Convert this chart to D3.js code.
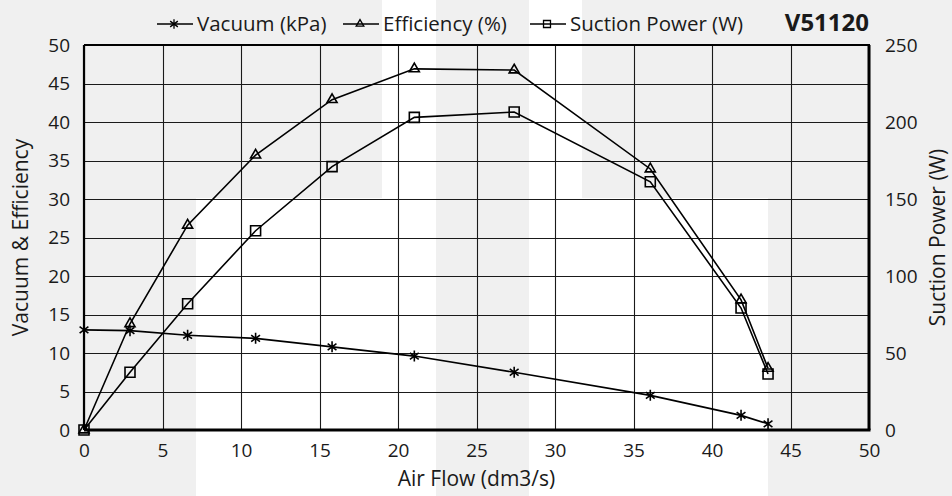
<!DOCTYPE html>
<html>
<head>
<meta charset="utf-8">
<script src="https://cdn.jsdelivr.net/npm/d3@7"></script>
<style>
  body { margin: 0; background: #f0f0f0; }
  svg { display: block; font-family: "Open Sans", sans-serif; }
</style>
</head>
<body>
<svg id="chart" width="952" height="496"></svg>
<script>
// air flow readings (dm3/s), shared by all three series
var airFlow = [0, 2.93, 6.6, 10.93, 15.8, 21.04, 27.4, 36.07, 41.85, 43.57];
var vacuum = [13.0, 12.9, 12.3, 11.9, 10.8, 9.6, 7.5, 4.5, 1.9, 0.8];
var efficiency = [0, 13.8, 26.6, 35.7, 42.9, 46.9, 46.75, 33.9, 16.9, 8.0];
var suctionPower = [0, 37.5, 82, 129.4, 171, 203, 206.5, 161.2, 79.2, 36.4];

var xTicks = [0, 5, 10, 15, 20, 25, 30, 35, 40, 45, 50];
var yLeftTicks = [0, 5, 10, 15, 20, 25, 30, 35, 40, 45, 50];
var yRightTicks = [0, 50, 100, 150, 200, 250];

var seriesNames = ["Vacuum (kPa)", "Efficiency (%)", "Suction Power (W)"];
var modelName = "V51120";

var svg = d3.select("#chart");
var plotL = 84, plotR = 869, plotT = 45, plotB = 430;
var fontFam = "'Open Sans', sans-serif";
var ink = "#1a1a1a";

// background patches (the source image had a checkered backdrop)
var patches = [
  [196, 198, 240, 298],
  [382, 0, 54, 198],
  [529, 198, 239, 298],
  [529, 0, 53, 198]
];
svg.selectAll("rect.patch")
  .data(patches)
  .enter()
  .append("rect")
  .attr("class", "patch")
  .attr("x", function (d) { return d[0]; })
  .attr("y", function (d) { return d[1]; })
  .attr("width", function (d) { return d[2]; })
  .attr("height", function (d) { return d[3]; })
  .attr("fill", "#ffffff");

var x = d3.scaleLinear().domain([0, 50]).range([plotL, plotR]);
var y = d3.scaleLinear().domain([0, 50]).range([plotB, plotT]);
var yR = d3.scaleLinear().domain([0, 250]).range([plotB, plotT]);

// grid
var grid = svg.append("g").attr("stroke", ink).attr("stroke-width", 1.1);
grid.selectAll("line.v")
  .data(xTicks)
  .enter()
  .append("line")
  .attr("x1", function (d) { return Math.round(x(d)) + 0.5; })
  .attr("x2", function (d) { return Math.round(x(d)) + 0.5; })
  .attr("y1", plotT)
  .attr("y2", plotB);
grid.selectAll("line.h")
  .data(yLeftTicks)
  .enter()
  .append("line")
  .attr("y1", function (d) { return Math.round(y(d)) + 0.5; })
  .attr("y2", function (d) { return Math.round(y(d)) + 0.5; })
  .attr("x1", plotL)
  .attr("x2", plotR);

// axes
var fontSize = 19;
function styleAxis(g) {
  g.select(".domain").remove();
  g.selectAll("text").attr("font-size", fontSize).attr("fill", ink)
    .attr("font-family", fontFam);
}
svg.append("g")
  .attr("transform", "translate(0," + plotB + ")")
  .call(d3.axisBottom(x).tickValues(xTicks).tickSize(0).tickPadding(14))
  .call(styleAxis);
svg.append("g")
  .attr("transform", "translate(" + plotL + ",0)")
  .call(d3.axisLeft(y).tickValues(yLeftTicks).tickSize(0).tickPadding(14))
  .call(styleAxis);
svg.append("g")
  .attr("transform", "translate(" + plotR + ",0)")
  .call(d3.axisRight(yR).tickValues(yRightTicks).tickSize(0).tickPadding(16))
  .call(styleAxis);

// plot frame
svg.append("line").attr("x1", plotL).attr("x2", plotL).attr("y1", plotT).attr("y2", plotB)
  .attr("stroke", "#000").attr("stroke-width", 2.2);
svg.append("line").attr("x1", plotL).attr("x2", plotR + 1).attr("y1", plotT).attr("y2", plotT)
  .attr("stroke", "#000").attr("stroke-width", 2.2);
svg.append("line").attr("x1", plotL).attr("x2", plotR + 1.5).attr("y1", plotB).attr("y2", plotB)
  .attr("stroke", "#000").attr("stroke-width", 3);
svg.append("line").attr("x1", plotR).attr("x2", plotR).attr("y1", plotT).attr("y2", plotB)
  .attr("stroke", "#000").attr("stroke-width", 3);

// marker shapes
function asterisk(r) {
  var a = r * 0.8;
  return "M0," + (-r) + "L0," + r +
    "M" + (-a) + "," + (-a * 0.75) + "L" + a + "," + (a * 0.75) +
    "M" + (-a) + "," + (a * 0.75) + "L" + a + "," + (-a * 0.75);
}
var triPath = d3.symbol().type(d3.symbolTriangle2).size(72)();
var sqPath = d3.symbol().type(d3.symbolSquare2).size(127)();
var triSmall = d3.symbol().type(d3.symbolTriangle2).size(42)();
var sqSmall = d3.symbol().type(d3.symbolSquare2).size(62)();

var series = [
  { values: vacuum, scale: y, marker: asterisk(5.5), small: asterisk(4.8) },
  { values: efficiency, scale: y, marker: triPath, small: triSmall },
  { values: suctionPower, scale: yR, marker: sqPath, small: sqSmall }
];

var line = d3.line();
series.forEach(function (s) {
  var pts = airFlow.map(function (f, i) { return [x(f), s.scale(s.values[i])]; });
  svg.append("path")
    .attr("d", line(pts))
    .attr("fill", "none")
    .attr("stroke", "#000")
    .attr("stroke-width", 1.6);
  svg.selectAll(null)
    .data(pts)
    .enter()
    .append("path")
    .attr("transform", function (d) { return "translate(" + d[0] + "," + d[1] + ")"; })
    .attr("d", s.marker)
    .attr("fill", "none")
    .attr("stroke", "#000")
    .attr("stroke-width", 1.6);
});

// legend
var legendX = [157, 343, 530];
var legend = svg.append("g");
seriesNames.forEach(function (name, i) {
  var lx = legendX[i];
  legend.append("line").attr("x1", lx).attr("x2", lx + 36).attr("y1", 24).attr("y2", 24)
    .attr("stroke", "#000").attr("stroke-width", 1.6);
  legend.append("path")
    .attr("transform", "translate(" + (lx + 17) + ",24)")
    .attr("d", series[i].small)
    .attr("fill", "none").attr("stroke", "#000").attr("stroke-width", 1.3);
  legend.append("text")
    .attr("x", lx + 40)
    .attr("y", 31)
    .attr("font-size", 20.5)
    .attr("fill", ink)
    .text(name);
});
svg.append("text")
  .attr("x", plotR)
  .attr("y", 31)
  .attr("text-anchor", "end")
  .attr("font-size", 24)
  .attr("font-weight", "bold")
  .attr("fill", ink)
  .text(modelName);

// axis titles
var titleSize = 21;
svg.append("text")
  .attr("x", (plotL + plotR) / 2)
  .attr("y", 486)
  .attr("text-anchor", "middle")
  .attr("font-size", titleSize)
  .attr("fill", ink)
  .text("Air Flow (dm3/s)");
svg.append("text")
  .attr("transform", "translate(28," + (plotT + plotB) / 2 + ") rotate(-90)")
  .attr("text-anchor", "middle")
  .attr("font-size", titleSize)
  .attr("fill", ink)
  .text("Vacuum & Efficiency");
svg.append("text")
  .attr("transform", "translate(945," + (plotT + plotB) / 2 + ") rotate(-90)")
  .attr("text-anchor", "middle")
  .attr("font-size", titleSize)
  .attr("fill", ink)
  .text("Suction Power (W)");
</script>
</body>
</html>
